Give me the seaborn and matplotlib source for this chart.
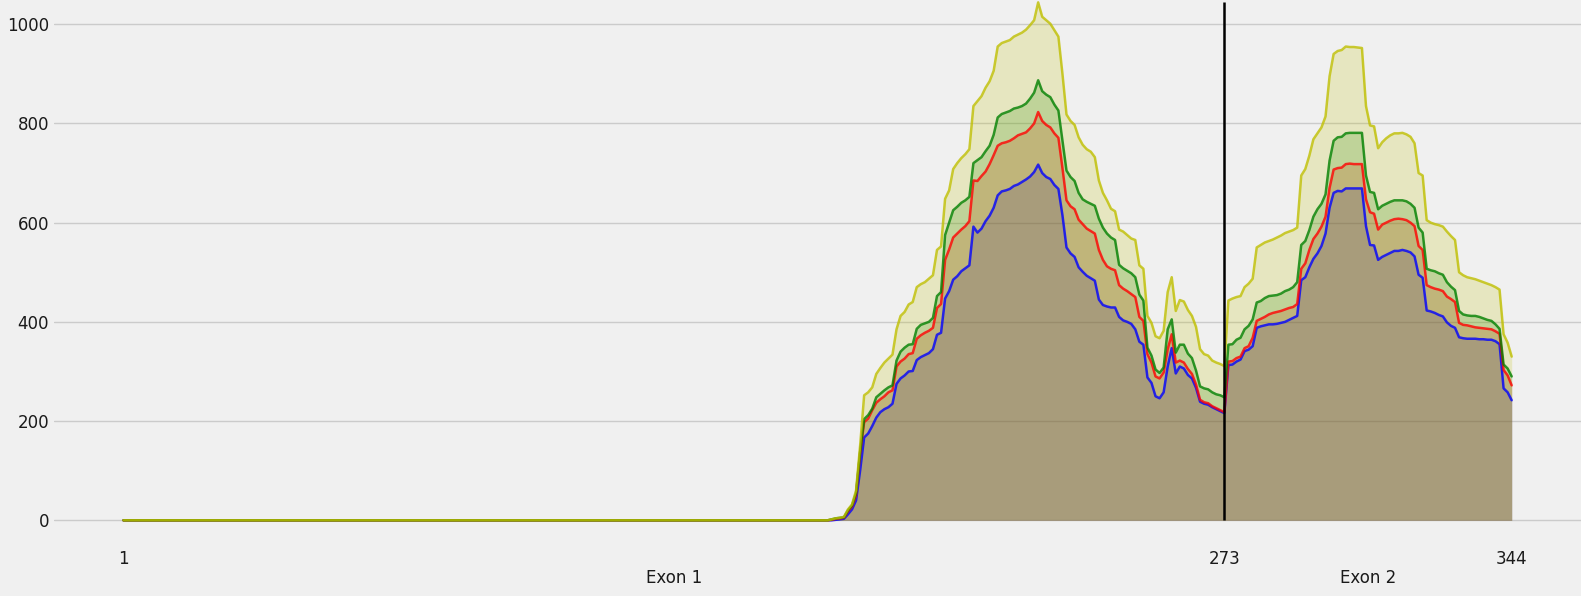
import matplotlib
matplotlib.use("Agg")  # headless
import matplotlib.pyplot as plt
import numpy as np
import pandas as pd
import seaborn as sns

# --------------------------------------------------------------------------
# Data: per-position coverage for four series, positions 1..344
# --------------------------------------------------------------------------
positions = list(range(1, 345))
exon_bounds = [1, 273, 344]
exon_centers = [137, 308.5]
exon_names = ["Exon 1", "Exon 2"]
y_ticks = [0, 200, 400, 600, 800, 1000]

yellow_vals = [0] * 175 + [
    2, 4, 5, 7, 22, 32, 60, 150,
    252, 258, 268, 295, 307, 318, 326, 334, 385, 412, 420, 435, 440, 470,
    476, 480, 487, 494, 545, 552, 648, 665, 708, 720, 730, 738, 748, 835,
    845, 855, 872, 885, 906, 955, 962, 965, 968, 975, 979, 983, 989, 998,
    1008, 1044, 1015, 1008, 1001, 988, 975, 900, 818, 805, 797, 772, 757,
    748, 743, 732, 685, 660, 645, 628, 623,
    586, 582, 575, 568, 565, 514, 507, 412, 398, 371, 367, 382, 460, 490,
    422, 444, 441, 424, 412, 390, 345, 335, 332, 322, 318, 315, 311,
    443, 447, 450, 452, 470, 477, 487, 550, 555, 560, 563, 566, 570, 574,
    579, 582, 585, 590, 695, 708, 735, 768, 780, 792, 814, 895, 940, 946,
    948, 955, 954, 954, 953, 952, 835, 796, 794, 750, 762, 770, 776, 780,
    780, 781, 778, 773, 760, 700, 695, 605, 600, 597, 595, 592, 582, 573,
    565, 500, 494, 490, 488, 486, 483, 480, 477, 474, 470, 465, 375, 358, 330,
]

green_vals = [0] * 175 + [
    2, 4, 5, 6, 20, 30, 55, 138,
    204, 212, 225, 248, 255, 262, 268, 272, 322, 340, 348, 354, 355, 386,
    394, 397, 400, 408, 452, 460, 575, 600, 625, 632, 640, 645, 652, 720,
    726, 732, 744, 755, 777, 812, 819, 822, 825, 830, 832, 835, 840, 850,
    862, 887, 865, 858, 853, 838, 826, 765, 705, 692, 684, 660, 647, 642,
    638, 634, 608, 590, 578, 570, 565,
    515, 508, 503, 498, 490, 455, 443, 348, 332, 304, 297, 308, 385, 405,
    338, 354, 354, 336, 327, 302, 270, 266, 264, 258, 254, 252, 248,
    354, 355, 364, 368, 385, 392, 405, 439, 442, 448, 452, 453, 454, 457,
    462, 465, 470, 480, 555, 563, 585, 612, 627, 638, 657, 725, 765, 772,
    773, 780, 781, 781, 781, 781, 695, 662, 660, 627, 634, 638, 642, 645,
    645, 645, 643, 638, 630, 590, 580, 507, 504, 502, 498, 495, 480, 471,
    464, 422, 415, 413, 412, 412, 410, 407, 404, 402, 395, 386, 314, 306, 290,
]

red_vals = [0] * 175 + [
    1, 3, 4, 5, 18, 28, 50, 135,
    198, 205, 222, 237, 244, 250, 258, 262, 310, 320, 326, 335, 337, 366,
    373, 378, 382, 388, 428, 436, 525, 546, 570, 578, 586, 593, 603, 685,
    684, 694, 703, 718, 736, 755, 760, 762, 765, 770, 776, 779, 782, 790,
    800, 823, 805, 797, 792, 780, 771, 710, 645, 633, 627, 606, 597, 588,
    583, 578, 545, 525, 512, 507, 504,
    474, 467, 462, 456, 450, 410, 402, 335, 318, 290, 286, 298, 345, 375,
    318, 322, 318, 305, 295, 274, 243, 238, 236, 230, 226, 222, 218,
    320, 321, 327, 330, 347, 351, 368, 402, 406, 410, 415, 418, 420, 422,
    425, 428, 430, 436, 507, 518, 545, 567, 578, 592, 612, 670, 707, 710,
    711, 718, 719, 718, 718, 718, 647, 621, 618, 586, 596, 600, 604, 607,
    608, 607, 605, 600, 593, 553, 545, 474, 470, 467, 465, 462, 451, 446,
    440, 398, 394, 393, 391, 389, 388, 387, 386, 385, 381, 376, 303, 292, 272,
]

blue_vals = [0] * 175 + [
    0, 1, 2, 3, 12, 22, 40, 100,
    167, 175, 190, 207, 218, 224, 228, 235, 275, 286, 292, 300, 301, 323,
    329, 333, 337, 345, 374, 378, 447, 462, 485, 492, 502, 508, 514, 592,
    580, 588, 603, 614, 630, 655, 663, 665, 668, 674, 677, 682, 687, 693,
    702, 717, 700, 692, 688, 676, 668, 615, 550, 538, 531, 510, 501, 493,
    488, 483, 445, 434, 431, 429, 429,
    410, 403, 400, 396, 385, 360, 354, 288, 277, 250, 246, 258, 310, 347,
    296, 310, 306, 293, 286, 267, 239, 235, 233, 228, 224, 220, 216,
    313, 314, 320, 324, 341, 344, 351, 388, 391, 393, 395, 395, 396, 398,
    400, 404, 408, 412, 484, 490, 510, 527, 538, 553, 578, 630, 660, 664,
    663, 669, 669, 669, 669, 669, 593, 555, 554, 525, 531, 535, 539, 543,
    543, 545, 543, 540, 532, 495, 489, 423, 421, 418, 414, 411, 399, 392,
    388, 369, 367, 366, 366, 366, 365, 365, 364, 364, 361, 355, 266, 258, 242,
]

df = pd.DataFrame({
    "pos": positions,
    "blue": blue_vals,
    "red": red_vals,
    "green": green_vals,
    "yellow": yellow_vals,
})

# drawing order matters: yellow ends up on top
series = [("blue", "b"), ("red", "r"), ("green", "g"), ("yellow", "y")]

# --------------------------------------------------------------------------
# Style
# --------------------------------------------------------------------------
sns.set_style("whitegrid", {
    "axes.facecolor": "#f0f0f0",
    "figure.facecolor": "#f0f0f0",
    "grid.color": "#cbcbcb",
    "axes.edgecolor": "#f0f0f0",
})
plt.rcParams["font.family"] = ["DejaVu Sans"]

W, H = 1581, 596
fig = plt.figure(figsize=(W / 100, H / 100), dpi=100)
ax = fig.add_axes([54.1 / W, (H - 546.2) / H, 1527 / W, 546.2 / H])

for name, color in series:
    ax.fill_between(df["pos"], 0, df[name], color=color, alpha=0.2, linewidth=0)

for name, color in series:
    sns.lineplot(data=df, x="pos", y=name, color=color, alpha=0.8,
                 linewidth=1.8, ax=ax)

ax.vlines(exon_bounds[1], 0, df["yellow"].max(), color="black", linewidth=1.8,
          zorder=5)

ax.set_xlim(-16.15, 361.15)
ax.set_ylim(-52.2, 1048.8)

ax.set_xticks(exon_bounds)
ax.set_xticklabels([str(b) for b in exon_bounds])
ax.set_xticks(exon_centers, minor=True)
ax.set_xticklabels(exon_names, minor=True)
ax.set_yticks(y_ticks)

ax.tick_params(axis="x", which="major", length=0, pad=3, labelsize=12,
               labelcolor="#1a1a1a")
ax.tick_params(axis="x", which="minor", length=0, pad=16.3, labelsize=12,
               labelcolor="#1a1a1a")
ax.tick_params(axis="y", length=0, pad=3.5, labelsize=12, labelcolor="#1a1a1a")

ax.grid(False, axis="x", which="both")
ax.grid(True, axis="y", color="#cbcbcb", linewidth=1.0)
ax.set_axisbelow(True)
for spine in ax.spines.values():
    spine.set_visible(False)
ax.set_xlabel("")
ax.set_ylabel("")

fig.savefig("out.png", dpi=100, facecolor=fig.get_facecolor())
plt.close(fig)
